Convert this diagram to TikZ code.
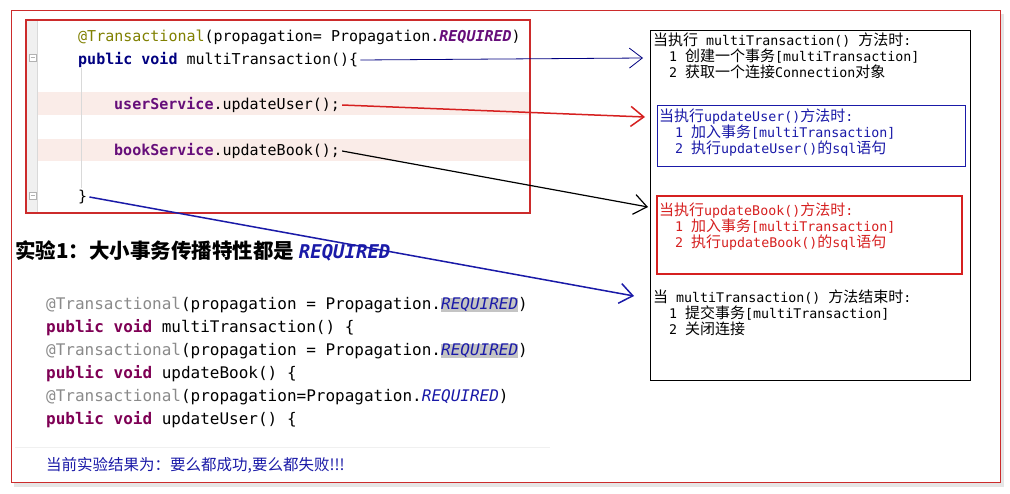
\documentclass[tikz,border=0pt]{standalone}
\usepackage{fontspec}
\setmonofont{DejaVu Sans Mono}
\newfontfamily\cjk{Noto Sans CJK SC}
\usepackage{tikz,xcolor}
\usetikzlibrary{arrows.meta}

\definecolor{annot}{HTML}{808000}
\definecolor{kwnavy}{HTML}{000080}
\definecolor{fieldpurple}{HTML}{660E7A}
\definecolor{kwmag}{HTML}{7F0055}
\definecolor{annotgray}{HTML}{8A8A8A}
\definecolor{noteblue}{HTML}{1A1AA8}
\definecolor{notered}{HTML}{D62020}
\definecolor{framered}{HTML}{CC2B2B}
\definecolor{rowpink}{HTML}{FAECE8}
\definecolor{gutter}{HTML}{F0F0F0}
\definecolor{hlgray}{HTML}{C4C4C4}

\newcommand{\zh}[1]{{\cjk\fontsize{15}{16}\selectfont #1}}
\newcommand{\kw}[1]{\textcolor{kwnavy}{\textbf{#1}}}
\newcommand{\kwb}[1]{\textcolor{kwmag}{\textbf{#1}}}
\newcommand{\req}[1]{\textcolor{noteblue}{\textit{#1}}}
\setlength{\fboxsep}{0pt}

\begin{document}
\begin{tikzpicture}[x=1pt,y=-1pt]
\tikzstyle{every node}=[inner sep=2pt]
\tikzstyle{codeA}=[anchor=west,font=\fontsize{15}{18}\selectfont\ttfamily]
\tikzstyle{codeB}=[anchor=west,font=\fontsize{16}{20}\selectfont\ttfamily]
\tikzstyle{note}=[anchor=north west,align=left,inner sep=0pt,font=\fontsize{13.3}{16}\selectfont\ttfamily]
\tikzstyle{ptr}=[-{Straight Barb[length=13pt,width=20pt]}]
\useasboundingbox (0,0) rectangle (1010,493);
    % outer frame
    \fill[black!10] (14,14) rectangle (1004,487);
    \draw[framered,fill=white] (11,10) rectangle (1000,482);
    % top code panel
    \draw[framered,line width=1.2pt,fill=white] (26,20) rectangle (530,213);
    \fill[gutter] (27,21) rectangle (37,212);
    \draw[black!15] (37,21) -- (37,212);
    \fill[rowpink] (38,92) rectangle (529,115);
    \fill[rowpink] (38,139) rectangle (529,161);
    \draw[black!15] (81,68) -- (81,188);
    \draw[black!30,fill=white] (29,54) rectangle (36,61);
    \draw[black!30] (30.5,57.5) -- (34.5,57.5);
    \draw[black!30,fill=white] (29,192) rectangle (36,199);
    \draw[black!30] (30.5,195.5) -- (34.5,195.5);
    \node[codeA](c1) at (76,37){\textcolor{annot}{@Transactional}(propagation= Propagation.\textcolor{fieldpurple}{\textbf{\textit{REQUIRED}}})};
    \node[codeA](c2) at (76,60){\kw{public} \kw{void} multiTransaction()\{};
    \node[codeA](c3) at (112,105){\textcolor{fieldpurple}{\textbf{userService}}.updateUser();};
    \node[codeA](c4) at (112,151){\textcolor{fieldpurple}{\textbf{bookService}}.updateBook();};
    \node[codeA](c5) at (76,197){\}};
    % right notes
    \draw[black] (650,30) rectangle (970,380);
    \draw[noteblue,line width=1pt] (657,105) rectangle (965,166);
    \draw[notered,line width=2pt] (657,196) rectangle (962,274);
    \node[note](n1) at (653,33){\zh{当执行} multiTransaction() \zh{方法时}:\\
      \hspace*{16pt}1 \zh{创建一个事务}[multiTransaction]\\
      \hspace*{16pt}2 \zh{获取一个连接}Connection\zh{对象}};
    \node[note,text=noteblue](n2) at (659,109){\zh{当执行}updateUser()\zh{方法时}:\\
      \hspace*{16pt}1 \zh{加入事务}[multiTransaction]\\
      \hspace*{16pt}2 \zh{执行}updateUser()\zh{的}sql\zh{语句}};
    \node[note,text=notered](n3) at (659,203){\zh{当执行}updateBook()\zh{方法时}:\\
      \hspace*{16pt}1 \zh{加入事务}[multiTransaction]\\
      \hspace*{16pt}2 \zh{执行}updateBook()\zh{的}sql\zh{语句}};
    \node[note](n4) at (653,290){\zh{当} multiTransaction() \zh{方法结束时}:\\
      \hspace*{16pt}1 \zh{提交事务}[multiTransaction]\\
      \hspace*{16pt}2 \zh{关闭连接}};
    % experiment 1
    \node[anchor=west](t1) at (13,251){\cjk\fontsize{20.5}{22}\selectfont\bfseries 实验1：大小事务传播特性都是 \textcolor{noteblue}{\ttfamily\bfseries\itshape\fontsize{19}{22}\selectfont REQUIRED}};
    \node[codeB](d1) at (44,305){\textcolor{annotgray}{@Transactional}(propagation = Propagation.\colorbox{hlgray}{\req{REQUIRED}})};
    \node[codeB](d2) at (44,328){\kwb{public} \kwb{void} multiTransaction() \{};
    \node[codeB](d3) at (44,351){\textcolor{annotgray}{@Transactional}(propagation = Propagation.\colorbox{hlgray}{\req{REQUIRED}})};
    \node[codeB](d4) at (44,374){\kwb{public} \kwb{void} updateBook() \{};
    \node[codeB](d5) at (44,397){\textcolor{annotgray}{@Transactional}(propagation=Propagation.\req{REQUIRED})};
    \node[codeB](d6) at (44,420){\kwb{public} \kwb{void} updateUser() \{};
    \draw[black!6] (15,447) -- (550,447);
    \node[anchor=west,text=noteblue](r1) at (44,465){\cjk\fontsize{15.5}{18}\selectfont 当前实验结果为：要么都成功,要么都失败!!!};
    % arrows
    \coordinate (pA) at (643,58);
    \coordinate (pB) at (645,117);
    \coordinate (pC) at (648,207);
    \coordinate (pD) at (634,296);
    \draw[ptr,kwnavy,line width=0.8pt](c2.east)--(pA);
    \draw[ptr,notered,line width=1.5pt](c3.east)--(pB);
    \draw[ptr,black,line width=1.2pt](c4.east)--(pC);
    \draw[ptr,noteblue,line width=1.5pt](c5.east)--(pD);
\end{tikzpicture}
\end{document}
